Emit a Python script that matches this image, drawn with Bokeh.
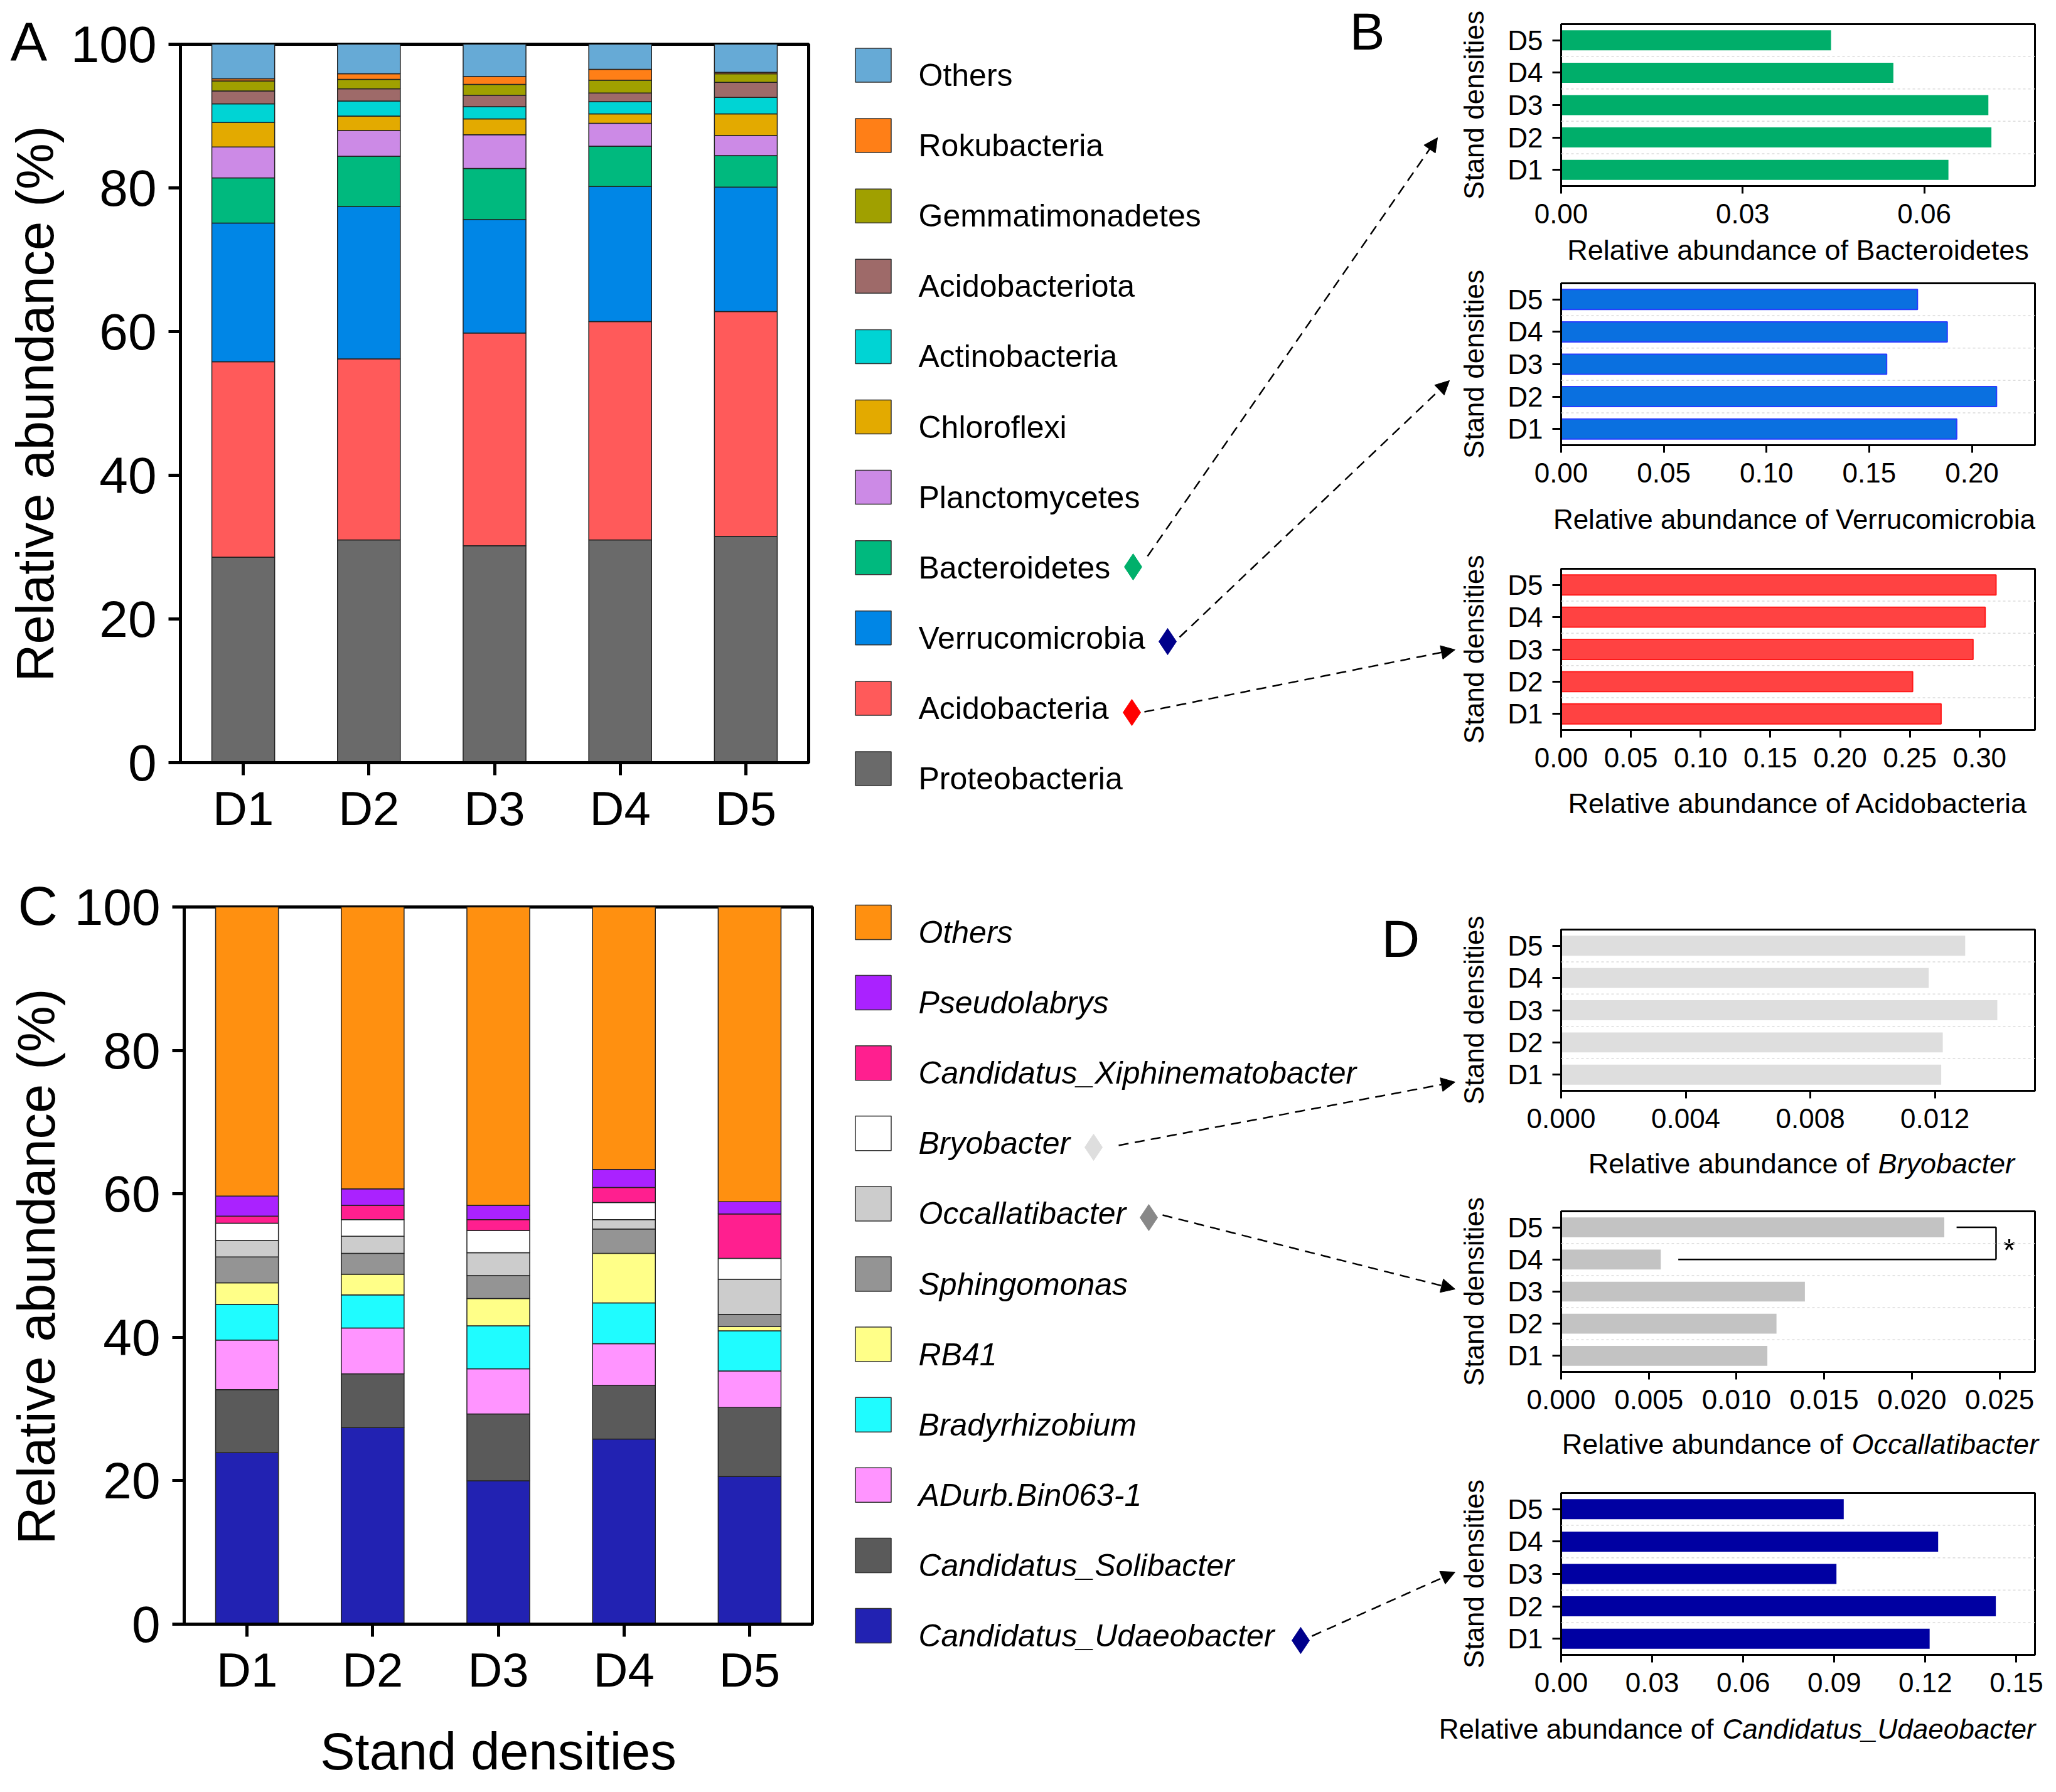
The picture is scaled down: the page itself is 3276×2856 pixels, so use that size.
from bokeh.plotting import figure
from bokeh.models import (Range1d, FixedTicker, Span, Arrow,
                          NormalHead, ColumnDataSource, NumeralTickFormatter)
from bokeh.layouts import row, column
from bokeh.embed import file_html
from bokeh.resources import INLINE
from bokeh.core.properties import value

FONT = "Liberation Sans"

densities = ["D1", "D2", "D3", "D4", "D5"]
pos = [1, 2, 3, 4, 5]
density_labels = {p: d for p, d in zip(pos, densities)}

# ---------------- Panel A: phyla, relative abundance (%) (stack order bottom -> top)
phyla = ["Proteobacteria", "Acidobacteria", "Verrucomicrobia", "Bacteroidetes",
         "Planctomycetes", "Chloroflexi", "Actinobacteria", "Acidobacteriota",
         "Gemmatimonadetes", "Rokubacteria", "Others"]
proteobacteria = [28.6, 31.0, 30.2, 31.0, 31.5]
acidobacteria = [27.2, 25.2, 29.6, 30.4, 31.3]
verrucomicrobia = [19.3, 21.2, 15.8, 18.8, 17.3]
bacteroidetes = [6.3, 7.0, 7.1, 5.6, 4.4]
planctomycetes = [4.3, 3.6, 4.7, 3.2, 2.8]
chloroflexi = [3.4, 2.0, 2.2, 1.3, 3.0]
actinobacteria = [2.6, 2.1, 1.7, 1.7, 2.3]
acidobacteriota = [1.8, 1.7, 1.6, 1.2, 2.1]
gemmatimonadetes = [1.4, 1.3, 1.5, 1.8, 1.2]
rokubacteria = [0.3, 0.8, 1.1, 1.5, 0.2]
others_phyla = [4.8, 4.1, 4.5, 3.5, 3.9]
phyla_values = [proteobacteria, acidobacteria, verrucomicrobia, bacteroidetes,
                planctomycetes, chloroflexi, actinobacteria, acidobacteriota,
                gemmatimonadetes, rokubacteria, others_phyla]
phyla_colors = ["#6a6a6a", "#ff5a5a", "#0086e6", "#00b97e", "#cc8ae6", "#e3aa00",
                "#00d4d4", "#9e6a69", "#a0a000", "#ff7f17", "#66aad6"]

# ---------------- Panel C: genera, relative abundance (%)
genera = ["Candidatus_Udaeobacter", "Candidatus_Solibacter", "ADurb.Bin063-1",
          "Bradyrhizobium", "RB41", "Sphingomonas", "Occallatibacter", "Bryobacter",
          "Candidatus_Xiphinematobacter", "Pseudolabrys", "Others"]
udaeobacter = [23.9, 27.4, 20.0, 25.8, 20.6]
solibacter = [8.8, 7.5, 9.3, 7.5, 9.6]
adurb = [6.9, 6.4, 6.3, 5.8, 5.1]
bradyrhizobium = [5.0, 4.6, 6.0, 5.7, 5.6]
rb41 = [3.0, 2.9, 3.8, 6.9, 0.6]
sphingomonas = [3.6, 2.9, 3.2, 3.4, 1.7]
occallatibacter = [2.3, 2.4, 3.2, 1.3, 4.9]
bryobacter = [2.4, 2.3, 3.1, 2.4, 2.9]
xiphinematobacter = [1.0, 2.0, 1.5, 2.1, 6.2]
pseudolabrys = [2.8, 2.3, 2.0, 2.5, 1.7]
others_genera = [40.3, 39.3, 41.6, 36.6, 41.1]
genera_values = [udaeobacter, solibacter, adurb, bradyrhizobium, rb41, sphingomonas,
                 occallatibacter, bryobacter, xiphinematobacter, pseudolabrys, others_genera]
genera_colors = ["#2222b2", "#5a5a5a", "#ff94ff", "#1ffcff", "#ffff88", "#949494",
                 "#cccccc", "#ffffff", "#ff1f8f", "#aa22ff", "#ff9010"]

# ---------------- Panels B and D: relative abundance (fraction)
bacteroidetes_rel = [0.0640, 0.0711, 0.0706, 0.0549, 0.0446]
verrucomicrobia_rel = [0.1926, 0.2120, 0.1585, 0.1880, 0.1735]
acidobacteria_rel = [0.2724, 0.2520, 0.2953, 0.3040, 0.3118]
bryobacter_rel = [0.01220, 0.01225, 0.01400, 0.01180, 0.01297]
occallatibacter_rel = [0.01176, 0.01228, 0.01390, 0.00568, 0.02185]
udaeobacter_rel = [0.1214, 0.1432, 0.0907, 0.1242, 0.0931]

ticks_bacteroidetes = [0, 0.03, 0.06]
ticks_verrucomicrobia = [0, 0.05, 0.10, 0.15, 0.20]
ticks_acidobacteria = [0, 0.05, 0.10, 0.15, 0.20, 0.25, 0.30]
ticks_bryobacter = [0, 0.004, 0.008, 0.012]
ticks_occallatibacter = [0, 0.005, 0.010, 0.015, 0.020, 0.025]
ticks_udaeobacter = [0, 0.03, 0.06, 0.09, 0.12, 0.15]

# ---------------------------------------------------------------- geometry
OFF = 1            # screen offset of the layout
STRIP_W = 105
LEFT_W = 1337
MID_W = 984
RIGHT_W = 939
TOTAL_H = 2840


def no_align(p):
    try:
        p.frame_align = False
    except Exception:
        pass
    return p


def style_axis(ax, label_size, line_w, tick_out):
    ax.axis_line_width = line_w
    ax.axis_line_color = "black"
    ax.major_tick_line_width = line_w
    ax.major_tick_line_color = "black"
    ax.major_tick_in = 0
    ax.major_tick_out = tick_out
    ax.minor_tick_line_color = None
    ax.major_label_text_font = FONT
    ax.major_label_text_font_size = label_size
    ax.major_label_text_color = "black"
    ax.axis_label_text_font = FONT
    ax.axis_label_text_font_style = "normal"
    ax.axis_label_text_color = "black"


def blank(width, height, x0, y0):
    """Axis-less canvas whose data units are screen pixels (y measured upwards as -y)."""
    p = figure(width=width, height=height, x_range=Range1d(x0, x0 + width),
               y_range=Range1d(-(y0 + height), -y0), x_axis_type=None, y_axis_type=None,
               output_backend="svg", toolbar_location=None, min_border=0)
    p.outline_line_color = None
    return no_align(p)


def stacked_panel(values, colors, height, top, bottom, left, right, xlabel=None):
    src = {"x": pos}
    keys = []
    for i, v in enumerate(values):
        src[f"s{i}"] = v
        keys.append(f"s{i}")
    p = figure(width=LEFT_W - STRIP_W, height=height, x_range=Range1d(0.5, 5.5),
               y_range=Range1d(0, 100), output_backend="svg", toolbar_location=None,
               min_border_left=left, min_border_right=right,
               min_border_top=top, min_border_bottom=bottom)
    no_align(p)
    p.vbar_stack(keys, x="x", width=0.5, fill_color=colors, line_color="#222222",
                 line_width=1.5, source=ColumnDataSource(src))
    p.xgrid.visible = False
    p.ygrid.visible = False
    p.outline_line_color = "black"
    p.outline_line_width = 5
    style_axis(p.xaxis[0], "76px", 5, 20)
    style_axis(p.yaxis[0], "82px", 5, 19)
    p.xaxis.ticker = FixedTicker(ticks=pos)
    p.xaxis.major_label_overrides = density_labels
    p.xaxis.major_label_standoff = 10
    p.yaxis.ticker = FixedTicker(ticks=[0, 20, 40, 60, 80, 100])
    p.yaxis.major_label_standoff = 19
    if xlabel:
        p.xaxis.axis_label = xlabel
        p.xaxis.axis_label_text_font_size = "83px"
        p.xaxis.axis_label_standoff = 38
    return p


def letter_strip(height, y0, letter, x, center_y):
    s = blank(STRIP_W, height, OFF, y0)
    s.text(x=[x], y=[-center_y], text=[letter], text_font=value(FONT),
           text_font_size="88px", text_align="left", text_baseline="middle",
           text_color="black")
    return s


def ytitle_strip(height, y0, center_y, standoff):
    """Narrow strip carrying the rotated y-axis title, centred on center_y."""
    top = 10
    bottom = 2 * y0 + top + height - 2 * center_y
    s = figure(width=STRIP_W, height=height, x_range=Range1d(0, 1), y_range=Range1d(0, 1),
               x_axis_type=None, output_backend="svg", toolbar_location=None,
               min_border_left=STRIP_W - 1, min_border_right=0,
               min_border_top=top, min_border_bottom=bottom)
    no_align(s)
    s.outline_line_color = None
    s.ygrid.visible = False
    ax = s.yaxis[0]
    ax.ticker = FixedTicker(ticks=[])
    ax.axis_line_color = None
    ax.major_tick_line_color = None
    ax.minor_tick_line_color = None
    ax.major_label_text_font_size = "0px"
    ax.axis_label = "Relative abundance (%)"
    ax.axis_label_text_font = FONT
    ax.axis_label_text_font_size = "83px"
    ax.axis_label_text_font_style = "normal"
    ax.axis_label_text_color = "black"
    ax.axis_label_standoff = standoff
    return s


A_H, C_H = 1369, 1471
A_LETTER_H, C_LETTER_H = 126, 132
pA = stacked_panel(phyla_values, phyla_colors, A_H, 70, 154, 182, 49)
lA = letter_strip(A_LETTER_H, OFF, "A", 17, 66.5)
tA = ytitle_strip(A_H - A_LETTER_H, OFF + A_LETTER_H, 644, 2)
pC = stacked_panel(genera_values, genera_colors, C_H, 76, 251, 188, 43,
                   xlabel="Stand densities")
lC = letter_strip(C_LETTER_H, OFF + A_H, "C", 29, 1443.5)
tC = ytitle_strip(C_H - C_LETTER_H, OFF + A_H + C_LETTER_H, 2019, 0)

# ---------------------------------------------------------------- right column panels
R_X0 = OFF + LEFT_W + MID_W  # screen x of right column
R_LEFT = 163
R_RIGHT = 18


def hbar_panel(vals, fill, line, xmax, ticks, fmt, height, top, frame_h,
               title=None, title_std=5, title_size="45px"):
    bottom = height - top - frame_h
    p = figure(width=RIGHT_W, height=height, x_range=Range1d(0, xmax),
               y_range=Range1d(0.5, 5.5), output_backend="svg",
               toolbar_location=None, min_border_left=R_LEFT, min_border_right=R_RIGHT,
               min_border_top=top, min_border_bottom=bottom)
    no_align(p)
    for k in [1.5, 2.5, 3.5, 4.5]:
        p.add_layout(Span(location=k, dimension="width", line_color="#dcdcdc",
                          line_dash="4 4", line_width=1.5))
    p.hbar(y=pos, left=0, right=vals, height=0.62, fill_color=fill,
           line_color=line, line_width=2)
    p.xgrid.visible = False
    p.ygrid.visible = False
    p.outline_line_color = "black"
    p.outline_line_width = 3
    style_axis(p.xaxis[0], "44px", 3, 12)
    style_axis(p.yaxis[0], "44px", 3, 14)
    p.xaxis.ticker = FixedTicker(ticks=ticks)
    p.xaxis.formatter = NumeralTickFormatter(format=fmt)
    p.xaxis.major_label_standoff = 16
    p.yaxis.ticker = FixedTicker(ticks=pos)
    p.yaxis.major_label_overrides = density_labels
    p.yaxis.major_label_standoff = 15
    p.yaxis.axis_label = "Stand densities"
    p.yaxis.axis_label_text_font_size = "44px"
    p.yaxis.axis_label_standoff = 26
    if title:
        p.xaxis.axis_label = title
        p.xaxis.axis_label_text_font_size = title_size
        p.xaxis.axis_label_standoff = title_std
    return p


def title_strip(x0, width, y0, height, normal, italic, split_x, center_y, size="45px"):
    s = blank(width, height, x0, y0)
    s.text(x=[split_x - 7], y=[-center_y], text=[normal], text_font=value(FONT),
           text_font_size=size, text_align="right", text_baseline="middle",
           text_color="black")
    s.text(x=[split_x + 7], y=[-center_y], text=[italic], text_font=value(FONT),
           text_font_size=size, text_font_style="italic", text_align="left",
           text_baseline="middle", text_color="black")
    return s


pB1 = hbar_panel(bacteroidetes_rel, "#00ae6a", None, 0.0783, ticks_bacteroidetes, "0.00",
                 429, 38, 258, title="Relative abundance of Bacteroidetes", title_std=14)
pB2 = hbar_panel(verrucomicrobia_rel, "#0a70e0", "#2a3cff", 0.2307, ticks_verrucomicrobia, "0.00",
                 440, 22, 258, title="Relative abundance of  Verrucomicrobia", title_std=31,
                 title_size="44px")
pB3 = hbar_panel(acidobacteria_rel, "#ff4242", "#ff1a1a", 0.3397, ticks_acidobacteria, "0.00",
                 530, 37, 257, title="Relative abundance of Acidobacteria", title_std=29)
pD1 = hbar_panel(bryobacter_rel, "#dedede", None, 0.01521, ticks_bryobacter, "0.000",
                 427, 82, 257)
tD1 = title_strip(R_X0, RIGHT_W, 1827, 63, "Relative abundance of", "Bryobacter", 2986, 1855)
pD2 = hbar_panel(occallatibacter_rel, "#c3c3c3", None, 0.02702, ticks_occallatibacter, "0.000",
                 385, 41, 256)
tD2 = title_strip(R_X0, RIGHT_W, 2275, 60, "Relative abundance of", "Occallatibacter", 2944, 2302)
pD3 = hbar_panel(udaeobacter_rel, "#0000a2", None, 0.1561, ticks_udaeobacter, "0.00",
                 391, 45, 258)
# wide strip under middle + right columns (the title runs to the left of the panel)
tD3 = title_strip(OFF + LEFT_W, MID_W + RIGHT_W, 2726, 115, "Relative abundance of",
                  "Candidatus_Udaeobacter", 2738, 2756, size="44px")

# significance bracket between D5 and D4 (Occallatibacter)
br_x = 0.0248
pD2.segment(x0=[occallatibacter_rel[4] + 0.0007, br_x, occallatibacter_rel[3] + 0.001],
            y0=[5, 5, 4], x1=[br_x, br_x, br_x], y1=[5, 4, 4],
            line_color="black", line_width=2.5)
pD2.text(x=[br_x + 0.00075], y=[4.28], text=["*"], text_font=value(FONT),
         text_font_size="50px", text_align="center", text_baseline="middle",
         text_color="black")

# ---------------------------------------------------------------- middle: legends + arrows
M_X0 = OFF + LEFT_W
MID_H = 2725
mid = figure(width=MID_W, height=MID_H, x_range=Range1d(M_X0, M_X0 + MID_W),
             y_range=Range1d(OFF + MID_H, OFF), x_axis_type=None, y_axis_type=None,
             output_backend="svg", toolbar_location=None, min_border=0)
mid.outline_line_color = None
no_align(mid)

leg_step = 112.1
sq_x, txt_x = 1392, 1464

legA_names = phyla[::-1]
legA_colors = phyla_colors[::-1]
legA_y = [104.5 + leg_step * i for i in range(len(legA_names))]
mid.rect(x=[sq_x] * len(legA_y), y=legA_y, width=57, height=54, fill_color=legA_colors,
         line_color="#333333", line_width=1.5)
mid.text(x=[txt_x] * len(legA_y), y=[v + 16 for v in legA_y], text=legA_names,
         text_font=value(FONT), text_font_size="50px", text_baseline="middle",
         text_align="left", text_color="black")

legC_names = genera[::-1]
legC_colors = genera_colors[::-1]
legC_y = [1470.5 + leg_step * i for i in range(len(legC_names))]
mid.rect(x=[sq_x] * len(legC_y), y=legC_y, width=57, height=55, fill_color=legC_colors,
         line_color="#333333", line_width=1.5)
mid.text(x=[txt_x] * len(legC_y), y=[v + 16 for v in legC_y], text=legC_names,
         text_font=value(FONT), text_font_size="50px", text_font_style="italic",
         text_baseline="middle", text_align="left", text_color="black")

# diamonds marking highlighted taxa and dashed arrows to the detail panels
diamonds_x = [1806, 1861, 1804, 1743, 1831, 2073]
diamonds_y = [904, 1023, 1136, 1829, 1941, 2615]
diamonds_c = ["#00b06b", "#00008b", "#ff0000", "#dedede", "#888888", "#00008b"]
mid.scatter(x=diamonds_x, y=diamonds_y, marker="diamond", size=42,
            fill_color=diamonds_c, line_color=diamonds_c)

arrows = [((1829, 887), (2291, 220)),
          ((1880, 1016), (2310, 607)),
          ((1824, 1135), (2319, 1036)),
          ((1783, 1826), (2319, 1725)),
          ((1853, 1937), (2319, 2055)),
          ((2091, 2608), (2319, 2506))]
for (xs, ys), (xe, ye) in arrows:
    mid.add_layout(Arrow(end=NormalHead(size=22, fill_color="black", line_color="black",
                                        line_width=1),
                         x_start=xs, y_start=ys, x_end=xe, y_end=ye,
                         line_color="black", line_width=2.5, line_dash="16 10"))

mid.text(x=[2151, 2202], y=[50, 1496], text=["B", "D"], text_font=value(FONT),
         text_font_size="84px", text_baseline="middle", text_align="left",
         text_color="black")

left_col = column(row(column(lA, tA), pA), row(column(lC, tC), pC))
right_col = column(pB1, pB2, pB3, pD1, tD1, pD2, tD2, pD3)
layout = row(left_col, column(row(mid, right_col), tD3))

open("out.html", "w").write(file_html(layout, INLINE))
